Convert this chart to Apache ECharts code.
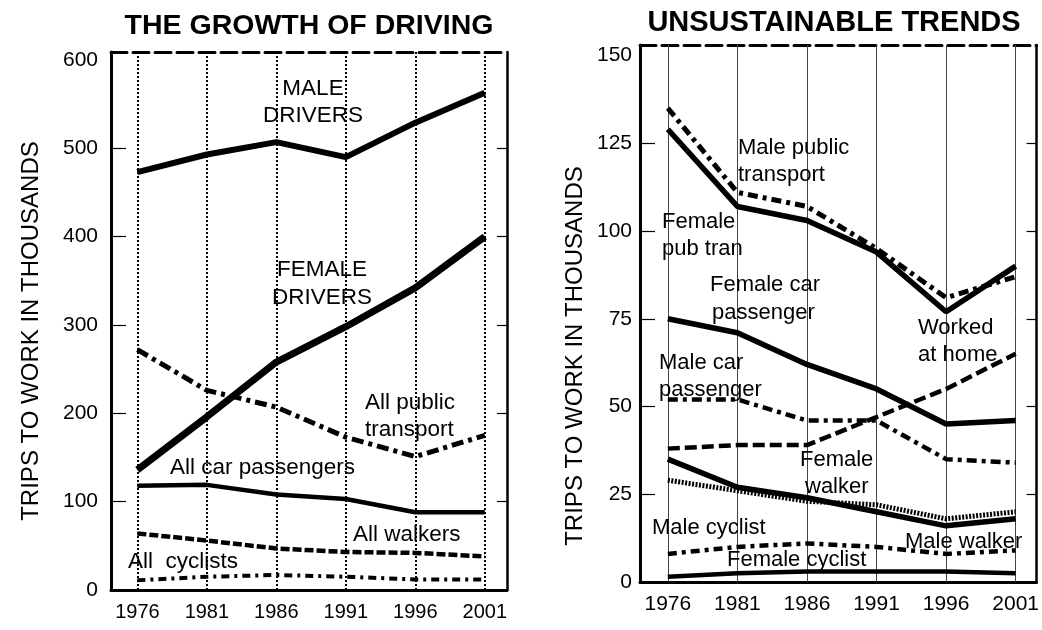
<!DOCTYPE html>
<html>
<head>
<meta charset="UTF-8">
<title>trips to work</title>
<script src="https://cdn.jsdelivr.net/npm/echarts@6/dist/echarts.min.js"></script>
<style>
  html, body { margin: 0; padding: 0; background: #fff; }
  #main { width: 1042px; height: 630px; }
</style>
</head>
<body>
<div id="main"></div>
<script>
// years on both panels
var years = [1976, 1981, 1986, 1991, 1996, 2001];

// left panel: the growth of driving (thousands)
var maleDrivers    = [473, 493, 507, 490, 529, 563];
var femaleDrivers  = [136, 196, 258, 298, 342, 400];
var allPublic      = [272, 226, 207, 173, 151, 175];
var allCarPass     = [118, 119, 108, 103, 88, 88];
var allWalkers     = [64, 56, 47, 43, 42, 38];
var allCyclists    = [11, 15, 17, 15, 12, 12];
var leftTicks      = [0, 100, 200, 300, 400, 500, 600];

// right panel: unsustainable trends (thousands)
var malePubTran    = [135, 111, 107, 95, 81, 87];
var femalePubTran  = [129, 107, 103, 94, 77, 90];
var femaleCarPass  = [75, 71, 62, 55, 45, 46];
var maleCarPass    = [52, 52, 46, 46, 35, 34];
var workedAtHome   = [38, 39, 39, 47, 55, 65];
var femaleWalker   = [29, 26, 23, 22, 18, 20];
var maleWalker     = [35, 27, 24, 20, 16, 18];
var maleCyclist    = [8, 10, 11, 10, 8, 9];
var femaleCyclist  = [1.5, 2.5, 3, 3, 3, 2.5];
var rightTicks     = [0, 25, 50, 75, 100, 125, 150];

var FONT = '"Liberation Sans", Arial, Helvetica, sans-serif';

function pairs(vals) {
  return vals.map(function (v, i) { return [years[i], v]; });
}

function line(name, vals, grid, width, dash) {
  return {
    name: name,
    type: 'line',
    xAxisIndex: grid,
    yAxisIndex: grid * 2,
    data: pairs(vals),
    showSymbol: false,
    silent: true,
    z: 5,
    lineStyle: { color: '#000', width: width, type: dash || 'solid', cap: 'butt' }
  };
}

function inner(vals) { return vals.slice(1, vals.length - 1); }

function yPair(grid, max, ticks, fontSize, margin) {
  return [{
    type: 'value', gridIndex: grid, min: 0, max: max,
    axisLine: { show: true, lineStyle: { color: '#000', width: 3 } },
    axisTick: { show: true, inside: true, length: 15, customValues: inner(ticks),
                lineStyle: { color: '#000', width: 1.2 } },
    axisLabel: { customValues: ticks, color: '#000', fontSize: fontSize,
                 fontFamily: FONT, margin: margin },
    splitLine: { show: false }
  }, {
    type: 'value', gridIndex: grid, min: 0, max: max, position: 'right',
    axisLine: { show: true, lineStyle: { color: '#000', width: 2.5 } },
    axisTick: { show: true, inside: true, length: 10, customValues: inner(ticks),
                lineStyle: { color: '#000', width: 1.2 } },
    axisLabel: { show: false },
    splitLine: { show: false }
  }];
}

function xBottom(grid, min, max, fontSize) {
  return {
    type: 'value', gridIndex: grid, min: min, max: max,
    axisLine: { show: true, onZero: false, lineStyle: { color: '#000', width: 3 } },
    axisTick: { show: false },
    axisLabel: { customValues: years, color: '#000', fontSize: fontSize,
                 fontFamily: FONT, margin: 12, formatter: function (v) { return String(v); } },
    splitLine: { show: false }
  };
}

function xTop(grid, min, max) {
  return {
    type: 'value', gridIndex: grid, min: min, max: max, position: 'top',
    axisLine: { show: true, onZero: false, lineStyle: { color: '#000', width: 3, type: [16, 6] } },
    axisTick: { show: false }, axisLabel: { show: false }, splitLine: { show: false }
  };
}

// vertical year guides
function guides(style) {
  return {
    silent: true, symbol: 'none', label: { show: false },
    lineStyle: style,
    data: years.map(function (y) { return { xAxis: y }; })
  };
}

var leftSeries = [
  line('Male drivers', maleDrivers, 0, 6),
  line('Female drivers', femaleDrivers, 0, 7),
  line('All public transport', allPublic, 0, 5, [12, 5, 4, 5]),
  line('All car passengers', allCarPass, 0, 4.5),
  line('All walkers', allWalkers, 0, 4.5, [9, 3]),
  line('All cyclists', allCyclists, 0, 4, [8, 5, 3, 5])
];
leftSeries[0].markLine = guides({ color: '#000', width: 2, type: [2, 2] });

var rightSeries = [
  line('Male public transport', malePubTran, 1, 5, [10, 5, 4, 5]),
  line('Female pub tran', femalePubTran, 1, 5.5),
  line('Female car passenger', femaleCarPass, 1, 5.5),
  line('Male car passenger', maleCarPass, 1, 4.5, [10, 5, 4, 5]),
  line('Worked at home', workedAtHome, 1, 4.5, [12, 5]),
  line('Female walker', femaleWalker, 1, 5, [2, 1.5]),
  line('Male walker', maleWalker, 1, 5.5),
  line('Male cyclist', maleCyclist, 1, 4.5, [9, 5, 4, 5]),
  line('Female cyclist', femaleCyclist, 1, 4.5)
];
rightSeries[0].markLine = guides({ color: '#444', width: 1, type: 'solid' });

// annotation text: [text, x, y, align]
var leftNotes = [
  ['MALE', 313, 89, 'center'], ['DRIVERS', 313, 116, 'center'],
  ['FEMALE', 322, 270, 'center'], ['DRIVERS', 322, 298, 'center'],
  ['All public', 365, 403, 'left'], ['transport', 365, 430, 'left'],
  ['All car passengers', 170, 468, 'left'],
  ['All walkers', 353, 535, 'left'],
  ['All  cyclists', 128, 562, 'left']
];
var rightNotes = [
  ['Male public', 738, 148, 'left'], ['transport', 738, 175, 'left'],
  ['Female', 662, 222, 'left'], ['pub tran', 662, 249, 'left'],
  ['Female car', 710, 285, 'left'], ['passenger', 712, 313, 'left'],
  ['Worked', 918, 328, 'left'], ['at home', 918, 355, 'left'],
  ['Male car', 659, 363, 'left'], ['passenger', 659, 390, 'left'],
  ['Female', 800, 460, 'left'], ['walker', 805, 487, 'left'],
  ['Male cyclist', 652, 528, 'left'],
  ['Male walker', 905, 542, 'left'],
  ['Female cyclist', 727, 560, 'left']
];

function note(n, size) {
  return {
    type: 'text', x: n[1], y: n[2], z: 10, silent: true,
    style: { text: n[0], font: size + 'px ' + FONT, fill: '#000',
             textAlign: n[3], textVerticalAlign: 'middle' }
  };
}

var graphics = [
  { type: 'text', x: 309, y: 26, silent: true,
    style: { text: 'THE GROWTH OF DRIVING', font: 'bold 28.5px ' + FONT, fill: '#000',
             textAlign: 'center', textVerticalAlign: 'middle' } },
  { type: 'text', x: 834, y: 23, silent: true,
    style: { text: 'UNSUSTAINABLE TRENDS', font: 'bold 29px ' + FONT, fill: '#000',
             textAlign: 'center', textVerticalAlign: 'middle' } },
  { type: 'text', x: 31, y: 331, rotation: Math.PI / 2, silent: true,
    style: { text: 'TRIPS TO WORK IN THOUSANDS', font: '24px ' + FONT, fill: '#000',
             textAlign: 'center', textVerticalAlign: 'middle' } },
  { type: 'text', x: 575, y: 356, rotation: Math.PI / 2, silent: true,
    style: { text: 'TRIPS TO WORK IN THOUSANDS', font: '24px ' + FONT, fill: '#000',
             textAlign: 'center', textVerticalAlign: 'middle' } }
];
leftNotes.forEach(function (n) { graphics.push(note(n, 22.5)); });
rightNotes.forEach(function (n) { graphics.push(note(n, 22)); });

var chart = echarts.init(document.getElementById('main'), null, { renderer: 'canvas' });
chart.setOption({
  backgroundColor: '#fff',
  animation: false,
  grid: [
    { left: 111, right: 535, top: 52, bottom: 40 },
    { left: 640, right: 5, top: 45, bottom: 48 }
  ],
  xAxis: [
    xBottom(0, 1974.1, 2002.6, 20),
    xBottom(1, 1974, 2002.5, 21),
    xTop(0, 1974.1, 2002.6),
    xTop(1, 1974, 2002.5)
  ],
  yAxis: yPair(0, 609, leftTicks, 21, 13).concat(yPair(1, 153, rightTicks, 21, 8)),
  series: leftSeries.concat(rightSeries),
  graphic: graphics
});
</script>
</body>
</html>
